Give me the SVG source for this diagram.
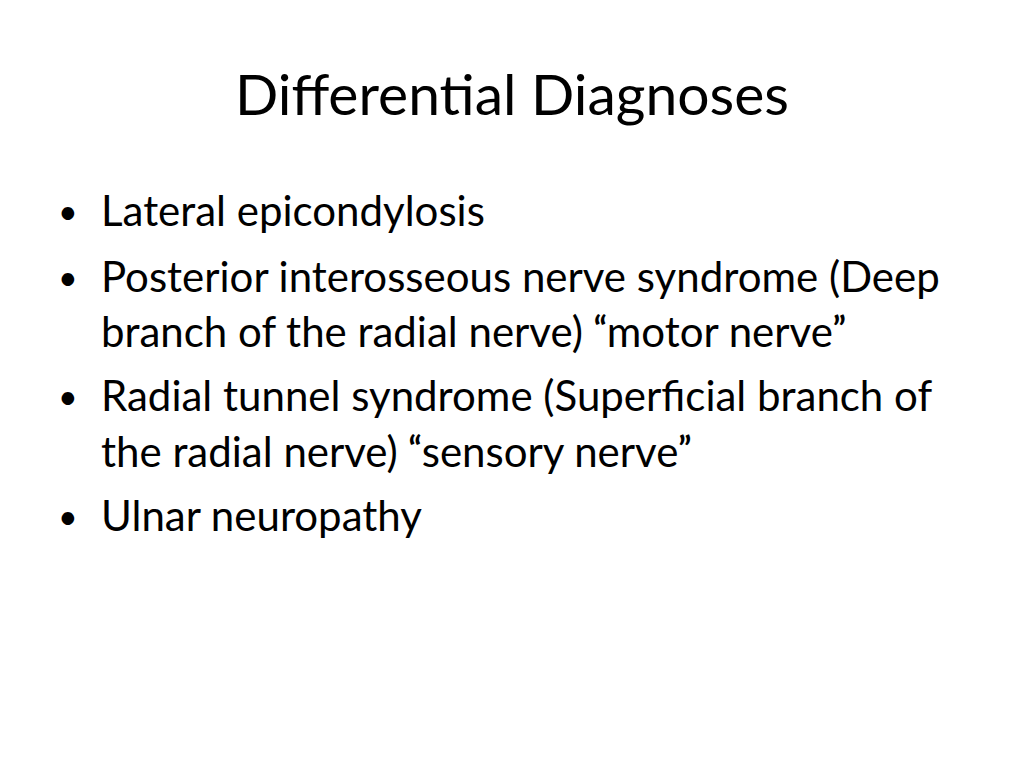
<svg xmlns="http://www.w3.org/2000/svg" width="1024" height="768" viewBox="0 0 1024 768">
<style>
text{font-family:Lato,"Open Sans",sans-serif;fill:#000}
.t{font-size:57px}
.b{font-size:42px}
.d{font-size:34px}
.q{font-size:34px;font-weight:bold}
</style>
<rect width="1024" height="768" fill="#fff"/>
<g id="title"><text class="t" x="512" y="115" text-anchor="middle">Differential Diagnoses</text></g>
<g id="bullets">
<text class="d" x="58" y="224">•</text>
<text class="b" x="101" y="226">Lateral epicondylosis</text>
<text class="d" x="58" y="290">•</text>
<text class="b" x="101" y="292">Posterior interosseous nerve syndrome (Deep</text>
<text class="b" x="101" y="347">branch of the radial nerve) <tspan class="q" dy="-6">“</tspan><tspan dy="6">motor nerve</tspan><tspan class="q" dy="-6">”</tspan></text>
<text class="d" x="58" y="409">•</text>
<text class="b" x="101" y="411">Radial tunnel syndrome (Superficial branch of</text>
<text class="b" x="101" y="467">the radial nerve) <tspan class="q" dy="-6">“</tspan><tspan dy="6">sensory nerve</tspan><tspan class="q" dy="-6">”</tspan></text>
<text class="d" x="58" y="529">•</text>
<text class="b" x="101" y="531">Ulnar neuropathy</text>
</g>
</svg>
